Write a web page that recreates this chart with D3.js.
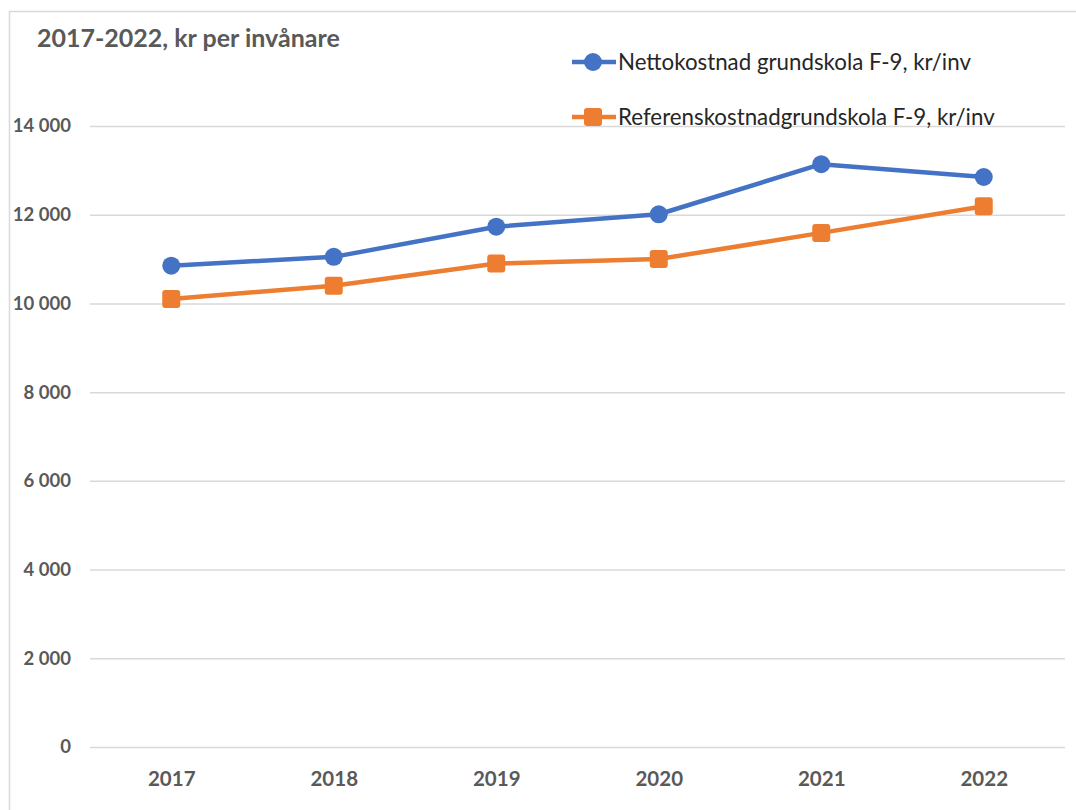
<!DOCTYPE html>
<html>
<head>
<meta charset="utf-8">
<script src="https://cdn.jsdelivr.net/npm/d3@7"></script>
<style>
  html, body { margin: 0; padding: 0; background: #fff; }
  svg { display: block; }
</style>
</head>
<body>
<svg id="chart" width="1076" height="810"></svg>
<script>
// Cost per inhabitant, compulsory school F-9
const years = ["2017", "2018", "2019", "2020", "2021", "2022"];
const nettokostnad = [10850, 11050, 11730, 12010, 13140, 12850];
const referenskostnad = [10100, 10400, 10900, 11000, 11590, 12190];
const yTicks = [0, 2000, 4000, 6000, 8000, 10000, 12000, 14000];
const seriesNames = ["Nettokostnad grundskola F-9, kr/inv", "Referenskostnadgrundskola F-9, kr/inv"];
const seriesColors = ["#4472C4", "#ED7D31"];
const titleText = "2017-2022, kr per invånare";

const svg = d3.select("#chart");
const font = "Lato, 'Open Sans', sans-serif";

// chart frame
svg.append("rect")
  .attr("x", 9.5).attr("y", 11.5)
  .attr("width", 1100).attr("height", 900)
  .attr("fill", "#fff")
  .attr("stroke", "#d9d9d9").attr("stroke-width", 1.5);

const plot = { left: 90, right: 1065, top: 126, bottom: 747 };

const x = d3.scalePoint().domain(years).range([plot.left, plot.right]).padding(0.5);
const y = d3.scaleLinear().domain([0, 14000]).range([plot.bottom, plot.top]);

// horizontal gridlines + y labels
const yAxis = d3.axisLeft(y).tickValues(yTicks)
  .tickSize(-(plot.right - plot.left)).tickPadding(19)
  .tickFormat(v => d3.format(",")(v).replace(/,/g, " "));
const gy = svg.append("g").attr("transform", `translate(${plot.left},0)`).call(yAxis);
gy.select(".domain").remove();
gy.selectAll("line").attr("stroke", "#d9d9d9").attr("stroke-width", 1.5);
gy.selectAll("text")
  .attr("fill", "#595959").attr("font-family", font)
  .attr("font-weight", 700).attr("font-size", 18.5);

// x labels
const xAxis = d3.axisBottom(x).tickSize(0).tickPadding(24);
const gx = svg.append("g").attr("transform", `translate(0,${plot.bottom})`).call(xAxis);
gx.select(".domain").remove();
gx.selectAll("text")
  .attr("fill", "#595959").attr("font-family", font)
  .attr("font-weight", 700).attr("font-size", 20.5);

// title
svg.append("text")
  .attr("x", 37).attr("y", 47)
  .attr("fill", "#595959").attr("font-family", font)
  .attr("font-weight", 700).attr("font-size", 25)
  .text(titleText);

const line = d3.line().x((d, i) => x(years[i])).y(d => y(d));

// series lines
[nettokostnad, referenskostnad].forEach((vals, s) => {
  svg.append("path")
    .datum(vals)
    .attr("d", line)
    .attr("fill", "none")
    .attr("stroke", seriesColors[s])
    .attr("stroke-width", 4.5)
    .attr("stroke-linejoin", "round");
});

// markers: circles for the first series, rounded squares for the second
svg.append("g").selectAll("circle").data(nettokostnad).join("circle")
  .attr("cx", (d, i) => x(years[i])).attr("cy", d => y(d))
  .attr("r", 9).attr("fill", seriesColors[0]);

svg.append("g").selectAll("rect").data(referenskostnad).join("rect")
  .attr("x", (d, i) => x(years[i]) - 9).attr("y", d => y(d) - 9)
  .attr("width", 18).attr("height", 18).attr("rx", 3)
  .attr("fill", seriesColors[1]);

// legend
const legendY = [62, 117];
seriesNames.forEach((name, s) => {
  const g = svg.append("g").attr("transform", `translate(572,${legendY[s]})`);
  g.append("line").attr("x1", 0).attr("x2", 44).attr("y1", 0).attr("y2", 0)
    .attr("stroke", seriesColors[s]).attr("stroke-width", 4.5);
  if (s === 0) {
    g.append("circle").attr("cx", 21).attr("cy", 0).attr("r", 9).attr("fill", seriesColors[s]);
  } else {
    g.append("rect").attr("x", 12).attr("y", -9).attr("width", 18).attr("height", 18)
      .attr("rx", 3).attr("fill", seriesColors[s]);
  }
  g.append("text").attr("x", 46).attr("y", 8)
    .attr("fill", "#262626").attr("font-family", font)
    .attr("font-size", 22.3)
    .text(name);
});
</script>
</body>
</html>
